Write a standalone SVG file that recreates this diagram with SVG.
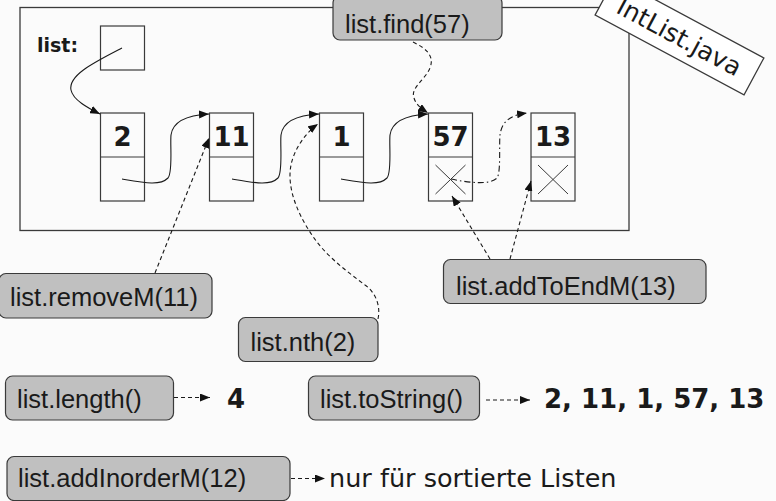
<svg xmlns="http://www.w3.org/2000/svg" width="776" height="501" viewBox="0 0 776 501">
<defs>
<marker id="ah" markerUnits="userSpaceOnUse" markerWidth="11" markerHeight="8" refX="10" refY="4" orient="auto">
<path d="M0,0 L10,4 L0,8 Z" fill="#111"/>
</marker>
<style>
.frame{fill:none;stroke:#3a3a3a;stroke-width:1.3}
.cell{fill:none;stroke:#3a3a3a;stroke-width:1.2}
.num{font-family:"DejaVu Sans",Verdana,sans-serif;font-weight:bold;font-size:26px;fill:#1a1a1a;text-anchor:middle}
.bold{font-family:"DejaVu Sans",Verdana,sans-serif;font-weight:bold;fill:#1a1a1a}
.call rect{fill:#c0c0c0;stroke:#3a3a3a;stroke-width:1.2}
.call text{font-family:"Liberation Sans",Arial,sans-serif;font-size:25.5px;fill:#1a1a1a}
.solid{fill:none;stroke:#1a1a1a;stroke-width:1.1;marker-end:url(#ah)}
.dash{fill:none;stroke:#1a1a1a;stroke-width:1.1;stroke-dasharray:4,3;marker-end:url(#ah)}
.dashdot{fill:none;stroke:#1a1a1a;stroke-width:1.1;stroke-dasharray:6,3,1.5,3;marker-end:url(#ah)}
.x{stroke:#3a3a3a;stroke-width:1}
</style>
</defs>
<rect x="0" y="0" width="776" height="501" fill="#fbfbfb"/>

<g id="frame">
<rect class="frame" x="20" y="7.5" width="609" height="223"/>
</g>

<g id="listvar">
<text class="bold" x="37" y="52" font-size="19">list:</text>
<rect class="cell" x="100.5" y="26" width="44" height="44"/>
</g>

<g id="node2" transform="translate(100.5,113)">
<rect class="cell" x="0" y="0" width="44" height="88"/>
<line class="cell" x1="0" y1="44" x2="44" y2="44"/>
<text class="num" x="22" y="33">2</text>
</g>
<g id="node11" transform="translate(209.5,113)">
<rect class="cell" x="0" y="0" width="44" height="88"/>
<line class="cell" x1="0" y1="44" x2="44" y2="44"/>
<text class="num" x="22" y="33">11</text>
</g>
<g id="node1" transform="translate(319.5,113)">
<rect class="cell" x="0" y="0" width="44" height="88"/>
<line class="cell" x1="0" y1="44" x2="44" y2="44"/>
<text class="num" x="22" y="33">1</text>
</g>
<g id="node57" transform="translate(428.5,113)">
<rect class="cell" x="0" y="0" width="44" height="88"/>
<line class="cell" x1="0" y1="44" x2="44" y2="44"/>
<text class="num" x="22" y="33">57</text>
<line class="x" x1="7" y1="52" x2="37" y2="81"/>
<line class="x" x1="37" y1="52" x2="7" y2="81"/>
</g>
<g id="node13" transform="translate(531,113)">
<rect class="cell" x="0" y="0" width="44" height="88"/>
<line class="cell" x1="0" y1="44" x2="44" y2="44"/>
<text class="num" x="22" y="33">13</text>
<line class="x" x1="7" y1="52" x2="37" y2="81"/>
<line class="x" x1="37" y1="52" x2="7" y2="81"/>
</g>

<g id="intlist" transform="translate(679.5,36.5) rotate(28.2)">
<rect x="-84.5" y="-21" width="169" height="42" fill="#ffffff" stroke="#3a3a3a" stroke-width="1.3"/>
<text x="0" y="9" font-family="'DejaVu Sans',Verdana,sans-serif" font-size="25" text-anchor="middle" fill="#1a1a1a">IntList.java</text>
</g>

<g id="find" class="call">
<rect x="333" y="-4" width="169" height="44" rx="7"/>
<text x="345" y="33">list.find(57)</text>
</g>
<g id="removeM" class="call">
<rect x="-1" y="273.5" width="213" height="44.5" rx="7"/>
<text x="10" y="306">list.removeM(11)</text>
</g>
<g id="nth" class="call">
<rect x="238.5" y="317.5" width="139.5" height="44" rx="7"/>
<text x="250.5" y="351">list.nth(2)</text>
</g>
<g id="addToEndM" class="call">
<rect x="443.5" y="259.5" width="262.5" height="44" rx="7"/>
<text x="456" y="294.5">list.addToEndM(13)</text>
</g>
<g id="length" class="call">
<rect x="5.5" y="376" width="168" height="44" rx="7"/>
<text x="17" y="408">list.length()</text>
</g>
<g id="toString" class="call">
<rect x="308.5" y="376" width="171" height="44" rx="7"/>
<text x="320" y="408">list.toString()</text>
</g>
<g id="addInorderM" class="call">
<rect x="7" y="456.5" width="283" height="44" rx="7"/>
<text x="18" y="486.5">list.addInorderM(12)</text>
</g>

<g id="results">
<text class="bold" x="227" y="407.5" font-size="26">4</text>
<text class="bold" x="544" y="408" font-size="26">2, 11, 1, 57, 13</text>
<text x="329" y="486.5" font-family="'DejaVu Sans',Verdana,sans-serif" font-size="25.5" fill="#1a1a1a">nur für sortierte Listen</text>
</g>

<g id="connectors">
<path class="solid" d="M122,48 C95,62 68,75 71,90 C73,100 88,108 100,114"/>
<path class="solid" d="M122,179 C145,183 160,186 168,178 C173,172 170,145 171,135 C173,120 190,115 209,114"/>
<path class="solid" d="M232,179 C255,183 270,186 278,178 C283,172 280,145 281,135 C283,120 300,115 319,114"/>
<path class="solid" d="M341,179 C364,183 379,186 387,178 C392,172 389,145 390,135 C392,120 409,115 428,114"/>
<path class="dashdot" d="M451,179 C470,183 490,185 497,178 C501,173 499,145 500,135 C502,120 512,115 527,113"/>
<path class="dash" d="M413,42 C425,48 435,55 430,68 C425,80 410,88 414,98 C416,105 422,109 428,113"/>
<path class="dash" d="M155,273 L209,138"/>
<path class="dash" d="M378,319 C381,305 375,292 365,285 C345,270 325,255 312,235 C295,210 287,185 291,165 C294,150 305,133 318,124"/>
<path class="dash" d="M490,259 L452,196"/>
<path class="dash" d="M510,259 L531,181"/>
<path class="dash" d="M174,397.5 L210,397.5"/>
<path class="dash" d="M486,400 L530,400"/>
<path class="dash" d="M291,478.5 L325,478.5"/>
</g>
</svg>
